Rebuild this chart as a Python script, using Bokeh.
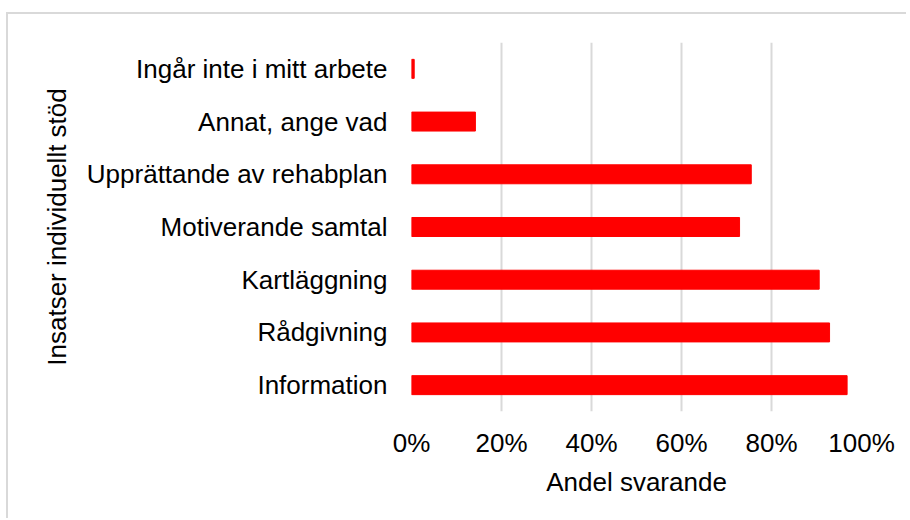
from bokeh.plotting import figure
from bokeh.models import FactorRange, Range1d, FixedTicker, NumeralTickFormatter
from bokeh.embed import file_html
from bokeh.resources import INLINE

categories = ["Information", "Rådgivning", "Kartläggning", "Motiverande samtal",
              "Upprättande av rehabplan", "Annat, ange vad", "Ingår inte i mitt arbete"]
shares = [0.968, 0.929, 0.906, 0.729, 0.755, 0.142, 0.006]
x_ticks = [0, 0.2, 0.4, 0.6, 0.8, 1.0]

FONT = "Liberation Sans"
FS = "26px"

p = figure(width=900, height=506, output_backend="svg", toolbar_location=None,
           y_range=FactorRange(*categories), x_range=Range1d(0, 1),
           min_border_left=403, min_border_right=47, min_border_top=28, min_border_bottom=109,
           styles={"border-top": "2px solid #d9d9d9", "border-left": "2px solid #d9d9d9",
                   "margin-top": "12px", "margin-left": "6px"})
p.hbar(y=categories, right=shares, left=0, height=0.36, color="#ff0000")

p.outline_line_color = None
p.background_fill_color = "white"
p.border_fill_color = "white"

p.xgrid.ticker = FixedTicker(ticks=x_ticks)
p.xgrid.grid_line_color = "#d9d9d9"
p.xgrid.grid_line_width = 2
p.ygrid.grid_line_color = None

p.xaxis.ticker = FixedTicker(ticks=x_ticks)
p.xaxis.formatter = NumeralTickFormatter(format="0%")
p.xaxis.axis_line_color = None
p.xaxis.major_tick_line_color = None
p.xaxis.minor_tick_line_color = None
p.xaxis.major_tick_out = 0
p.xaxis.major_tick_in = 0
p.xaxis.major_label_standoff = 16
p.xaxis.axis_label = "Andel svarande"
p.xaxis.axis_label_standoff = 6

p.yaxis.axis_line_color = None
p.yaxis.major_tick_line_color = None
p.yaxis.major_tick_out = 0
p.yaxis.major_tick_in = 0
p.yaxis.major_label_standoff = 24
p.yaxis.axis_label = "Insatser individuellt stöd"
p.yaxis.axis_label_standoff = 12

for ax in (p.xaxis[0], p.yaxis[0]):
    ax.major_label_text_font = FONT
    ax.major_label_text_font_size = FS
    ax.major_label_text_color = "#000000"
    ax.axis_label_text_font = FONT
    ax.axis_label_text_font_size = FS
    ax.axis_label_text_font_style = "normal"
    ax.axis_label_text_color = "#000000"

open("out.html", "w").write(file_html(p, INLINE))
